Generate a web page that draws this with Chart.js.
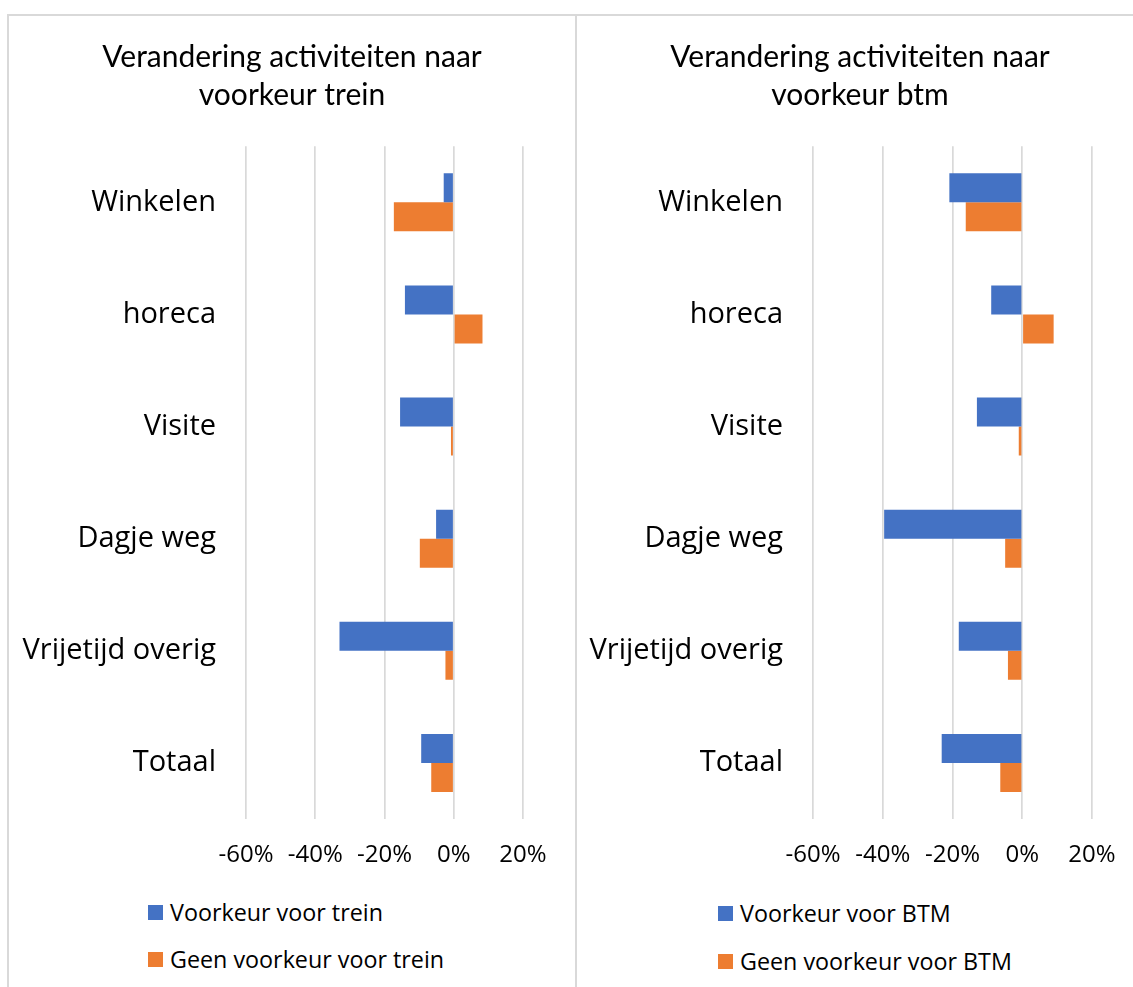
<!DOCTYPE html>
<html>
<head>
<meta charset="utf-8">
<script src="https://cdn.jsdelivr.net/npm/chart.js@4.4.1/dist/chart.umd.min.js"></script>
<style>
  html, body { margin:0; padding:0; background:#fff; width:1133px; height:987px; overflow:hidden; position:relative; font-family: 'Open Sans', sans-serif; }
  .line { position:absolute; background:#d9d9d9; }
  .wrap { position:absolute; }
  .legend { position:absolute; font-family: 'Open Sans', sans-serif; font-size:23.3px; color:#000; }
  .legend .item { position:absolute; white-space:nowrap; display:flex; align-items:center; height:30px; line-height:30px; }
  .legend .sw { width:15px; height:15px; display:inline-block; margin-right:7px; }
</style>
</head>
<body>
<div class="line" style="left:8px; top:14px; width:1125px; height:2px;"></div>
<div class="line" style="left:7px; top:14px; width:2px; height:973px;"></div>
<div class="line" style="left:575px; top:14px; width:2px; height:973px;"></div>

<div class="wrap" style="left:9px; top:16px; width:566px; height:864px;"><canvas id="c1"></canvas></div>
<div class="wrap" style="left:578px; top:16px; width:564px; height:864px;"><canvas id="c2"></canvas></div>

<div class="legend" id="lg1"></div>
<div class="legend" id="lg2"></div>

<script>
const categories = ['Winkelen', 'horeca', 'Visite', 'Dagje weg', 'Vrijetijd overig', 'Totaal'];
const xTickValues = [-60, -40, -20, 0, 20];

const trainTitle = ['Verandering activiteiten naar', 'voorkeur trein'];
const trainSeriesNames = ['Voorkeur voor trein', 'Geen voorkeur voor trein'];
const trainPref = [-2.9, -14.1, -15.5, -5.1, -33.0, -9.4];
const trainNoPref = [-17.3, 8.3, -0.8, -9.8, -2.4, -6.5];

const btmTitle = ['Verandering activiteiten naar', 'voorkeur btm'];
const btmSeriesNames = ['Voorkeur voor BTM', 'Geen voorkeur voor BTM'];
const btmPref = [-20.9, -8.9, -13.0, -39.6, -18.2, -23.1];
const btmNoPref = [-16.2, 9.0, -1.0, -4.9, -4.1, -6.3];

const BLUE = '#4472C4';
const ORANGE = '#ED7D31';
const GRID = '#d9d9d9';
const TITLE_FONT = 'Lato';
const FONT = 'Open Sans';

function makeChart(id, title, names, a, b, yWidth, rightSpace) {
  return new Chart(document.getElementById(id), {
    type: 'bar',
    data: {
      labels: categories,
      datasets: [
        { label: names[0], data: a, backgroundColor: BLUE, borderWidth: 0, categoryPercentage: 0.517, barPercentage: 1.0 },
        { label: names[1], data: b, backgroundColor: ORANGE, borderWidth: 0, categoryPercentage: 0.517, barPercentage: 1.0 }
      ]
    },
    options: {
      indexAxis: 'y',
      responsive: true,
      maintainAspectRatio: false,
      animation: false,
      layout: { padding: 0 },
      plugins: {
        legend: { display: false },
        tooltip: { enabled: false },
        title: {
          display: true,
          text: title,
          color: '#000',
          font: { family: TITLE_FONT, size: 30, weight: 'normal', lineHeight: 1.27 },
          padding: { top: 22, bottom: 32 }
        }
      },
      scales: {
        x: {
          min: -60, max: 20,
          afterBuildTicks: (s) => { s.ticks = xTickValues.map(v => ({ value: v })); },
          afterFit: (s) => { s.height = 61; },
          grid: { color: GRID, lineWidth: 1.7, drawTicks: false },
          border: { display: false },
          ticks: {
            color: '#000', padding: 22, maxRotation: 0, autoSkip: false,
            font: { family: FONT, size: 24 },
            callback: (v) => v + '%'
          }
        },
        y: {
          afterFit: (s) => { s.width = yWidth; },
          grid: { display: false, drawTicks: false },
          border: { display: false },
          ticks: {
            color: '#000', padding: 30, autoSkip: false,
            font: { family: FONT, size: 29 }
          }
        },
        ySpace: {
          type: 'category',
          position: 'right',
          afterFit: (s) => { s.width = rightSpace; },
          grid: { display: false, drawTicks: false },
          border: { display: false },
          ticks: { display: false }
        }
      }
    }
  });
}

function makeLegend(id, names, left, top1, top2) {
  const el = document.getElementById(id);
  const colors = [BLUE, ORANGE];
  const tops = [top1, top2];
  names.forEach((n, i) => {
    const it = document.createElement('div');
    it.className = 'item';
    it.style.left = left + 'px';
    it.style.top = tops[i] + 'px';
    const sw = document.createElement('span');
    sw.className = 'sw';
    sw.style.background = colors[i];
    const tx = document.createElement('span');
    tx.textContent = n;
    it.appendChild(sw);
    it.appendChild(tx);
    el.appendChild(it);
  });
}

makeChart('c1', trainTitle, trainSeriesNames, trainPref, trainNoPref, 237, 52);
makeChart('c2', btmTitle, btmSeriesNames, btmPref, btmNoPref, 235, 50);
makeLegend('lg1', trainSeriesNames, 148, 897, 944);
makeLegend('lg2', btmSeriesNames, 718, 898, 946);
</script>
</body>
</html>
